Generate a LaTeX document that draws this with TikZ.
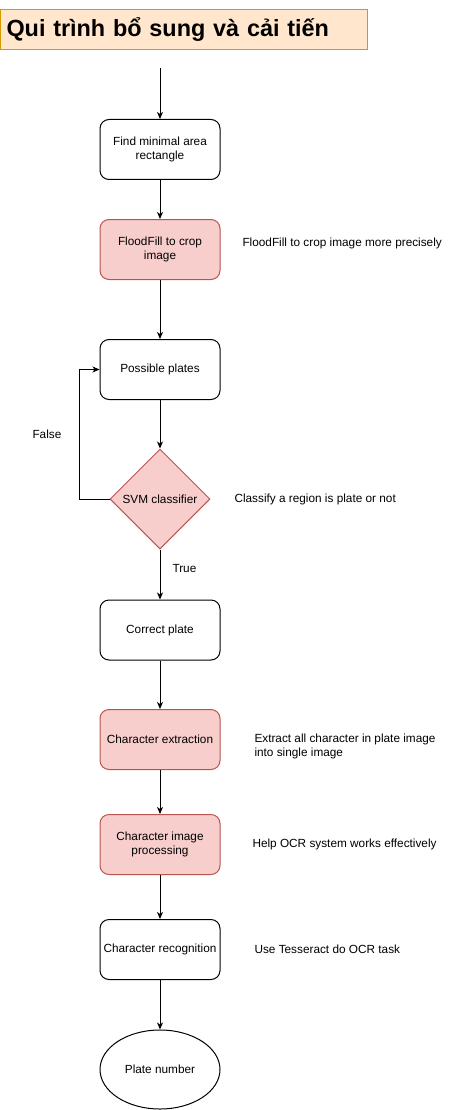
\documentclass[tikz,border=0pt]{standalone}
\usepackage{fontspec}
\setmainfont{Liberation Sans}
\usetikzlibrary{arrows.meta, shapes.geometric}

\definecolor{redfill}{HTML}{F8CECC}
\definecolor{redline}{HTML}{B85450}
\definecolor{titlefill}{HTML}{FFE6CC}
\definecolor{titleline}{HTML}{D79B00}

\begin{document}
\begin{tikzpicture}[x = 1pt, y = -1pt, > = {Stealth[length = 7pt, width = 6pt, inset = 2pt]}, line width = 1pt, font = \fontsize{11.8}{14}\selectfont,
	box/.style = {draw, rounded corners = 9pt, minimum width = 120pt, minimum height = 60pt, inner sep = 0pt, align = center},
	redbox/.style = {box, fill = redfill, draw = redline},
	note/.style = {right, inner sep = 0pt, align = left}]
	
	\useasboundingbox (0, 0) rectangle (461, 1110);
	
	\node [draw = titleline, fill = titlefill, text width = 355pt, inner xsep = 6pt, inner ysep = 0pt, minimum height = 40pt, align = left, font = \fontsize{23.4}{27}\selectfont\bfseries] (title) at (184, 29.5) {Qui trình bổ sung và cải tiến};
	
	\coordinate (start) at (160, 68);
	
	\node [box] (minarea) at (160, 149.5) {Find minimal area\\rectangle};
	\node [redbox] (floodfill) at (160, 249.5) {FloodFill to crop\\image};
	\node [box] (possible) at (160, 369.5) {Possible plates};
	\node [diamond, draw = redline, fill = redfill, minimum width = 100pt, minimum height = 100pt, inner sep = 0pt] (svm) at (160, 499) {SVM classifier};
	\node [box] (correct) at (160, 630) {Correct plate};
	\node [redbox] (extraction) at (160, 739.5) {Character extraction};
	\node [redbox] (processing) at (160, 844.5) {Character image\\processing};
	\node [box] (recognition) at (160, 949.5) {Character recognition};
	\node [ellipse, draw, minimum width = 120pt, minimum height = 79pt, inner sep = 0pt] (number) at (160, 1069.5) {Plate number};
	
	\foreach \a/\b in {start/minarea, minarea/floodfill, floodfill/possible, possible/svm, svm/correct,
		correct/extraction, extraction/processing, processing/recognition, recognition/number}
		\draw [->] (\a) -- (\b);
	
	\draw [->] (svm.west) -- ++(-30, 0) |- (possible.west);
	
	\node [note] (false) at (32, 434) {False};
	\node [note] (true) at (172, 568) {True};
	
	\node [note] (floodnote) at (242, 243) {FloodFill to crop image more precisely};
	\node [note] (svmnote) at (234, 499) {Classify a region is plate or not};
	\node [note] (extractnote) at (254, 746) {Extract all character in plate image\\into single image};
	\node [note] (ocrnote) at (252, 844) {Help OCR system works effectively};
	\node [note] (tessnote) at (254, 949) {Use Tesseract do OCR task};
	
\end{tikzpicture}
\end{document}
